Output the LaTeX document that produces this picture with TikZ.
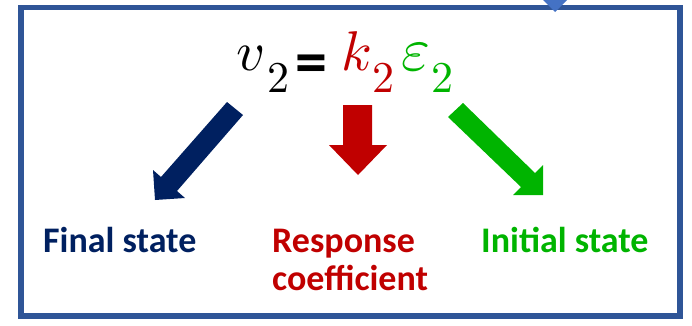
\documentclass[tikz,border=0pt]{standalone}
\usepackage{fontspec}
\newfontfamily\labelfont{Carlito}
\newfontfamily\eqfont{Latin Modern Math}
\definecolor{boxblue}{HTML}{2F5597}
\definecolor{triblue}{HTML}{4472C4}
\definecolor{navy}{HTML}{002060}
\definecolor{kred}{HTML}{C00000}
\definecolor{kgreen}{RGB}{0,180,0}
\tikzset{
  lbl/.style={anchor=base west, inner sep=0pt, font=\labelfont\bfseries\fontsize{36}{38}\selectfont},
}
\newcommand{\lowtwo}{\lower22pt\hbox{\fontsize{44}{44}\selectfont 2}}
\newcommand{\eqsign}{\lower13pt\hbox{\labelfont\bfseries\fontsize{64}{64}\selectfont =}}
\begin{document}
\begin{tikzpicture}[x=1pt,y=-1pt]
\useasboundingbox (0,0) rectangle (692,325);
\draw[boxblue, line width=5.5pt] (21,7.5) rectangle (680,316);
\fill[triblue] (543,0) -- (567,0) -- (555,12) -- cycle;
% equation
\node[anchor=base west, inner sep=0pt] (eq) at (236,70)
  {\eqfont\fontsize{56}{56}\selectfont 𝑣\kern4pt\lowtwo\kern6pt\eqsign\kern14pt\textcolor{kred}{𝑘\kern2pt\lowtwo}\kern7pt\textcolor{kgreen}{\hbox{\fontsize{62}{62}\selectfont 𝜀}\kern1pt\lowtwo}};
% arrows
\fill[navy] (227,102) -- (161,177) -- (153,170) -- (155,200) -- (185,198) -- (177,191) -- (243,115) -- cycle;
\fill[kred] (343,105) -- (372,105) -- (372,145) -- (387,145) -- (358,175) -- (329,145) -- (343,145) -- cycle;
\fill[kgreen] (463,103) -- (535,173) -- (543,165) -- (543,195) -- (513,195) -- (521,187) -- (448,117) -- cycle;
% labels
\node[lbl, text=navy] (final) at (43,252) {Final state};
\node[lbl, text=kred] (resp) at (272,252) {Response};
\node[lbl, text=kred] (coef) at (272,290) {coefficient};
\node[lbl, text=kgreen] (init) at (481,252) {Initial state};
\end{tikzpicture}
\end{document}
